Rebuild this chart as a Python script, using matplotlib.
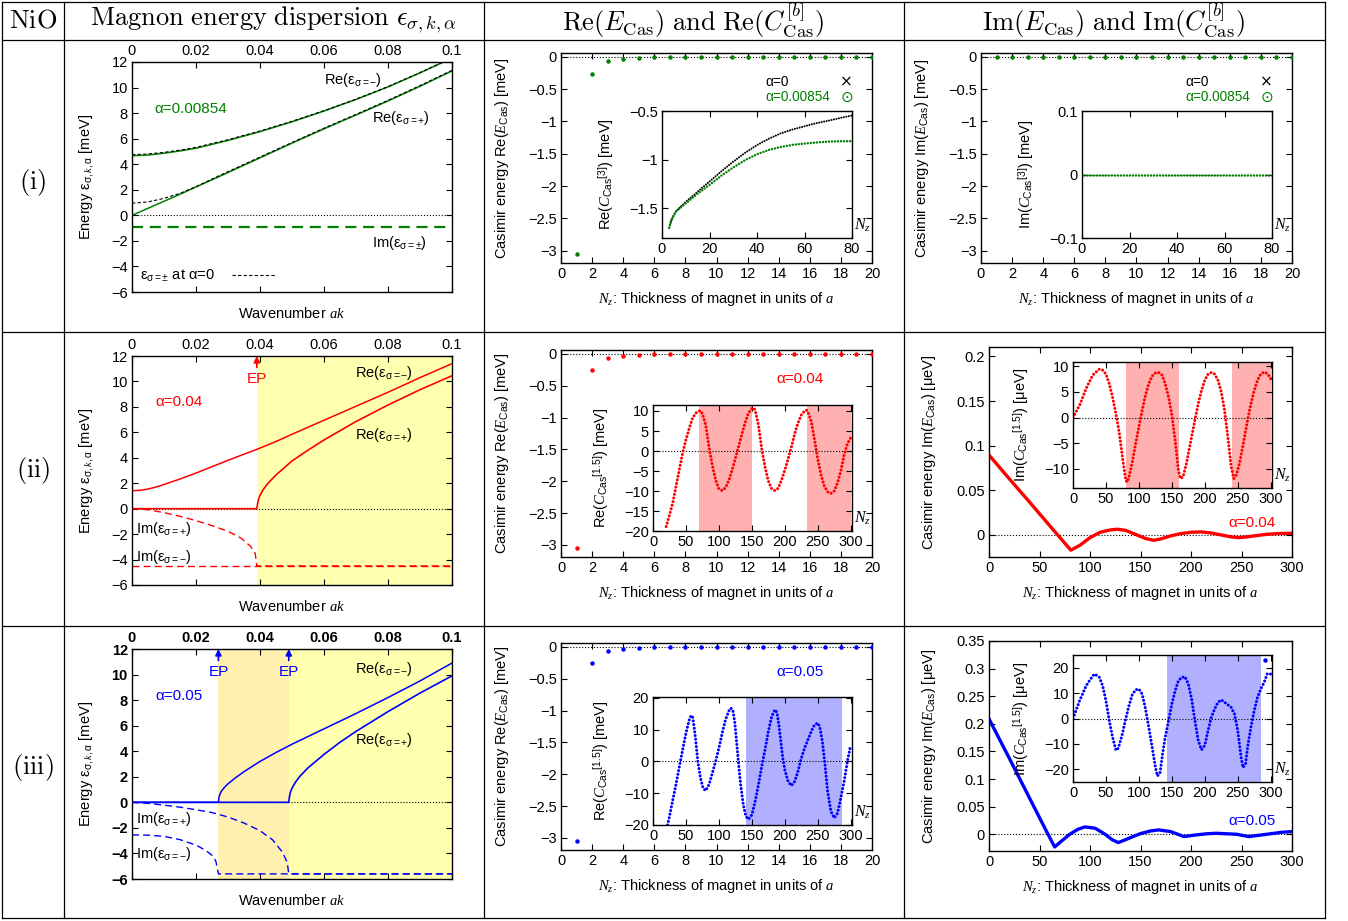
import numpy as np
import matplotlib
matplotlib.use('Agg')
import matplotlib.pyplot as plt
from matplotlib.lines import Line2D
from matplotlib.ticker import FuncFormatter

W, H = 1348, 921

plt.rcParams['font.family'] = ['Liberation Sans', 'DejaVu Sans']
plt.rcParams['font.size'] = 10.5
plt.rcParams['mathtext.fontset'] = 'custom'
plt.rcParams['mathtext.rm'] = 'Liberation Sans'
plt.rcParams['mathtext.it'] = 'Liberation Serif:italic'
plt.rcParams['mathtext.bf'] = 'Liberation Sans:bold'
plt.rcParams['axes.linewidth'] = 1.0

GREEN = '#008000'
RED = '#ff0000'
BLUE = '#0000ff'
YELLOW = '#ffffb0'
ORANGE = '#fff0b0'
PINK = '#ffb0b0'
LAVENDER = '#b0b0ff'

# ---------------- data: magnon dispersion (left column) ----------------
k_ticks = [0, 0.02, 0.04, 0.06, 0.08, 0.1]
e_ticks = [-6, -4, -2, 0, 2, 4, 6, 8, 10, 12]

# (i) alpha = 0.00854 and alpha = 0
k1 = [0, 0.005, 0.01, 0.015, 0.02, 0.03, 0.04, 0.05, 0.06, 0.07, 0.08, 0.09, 0.1]
re_minus_i = [4.66, 4.72, 4.86, 5.04, 5.25, 5.86, 6.55, 7.32, 8.16, 9.07, 10.05, 11.15, 12.3]
re_plus_i = [0, 0.55, 1.1, 1.65, 2.22, 3.35, 4.5, 5.65, 6.77, 7.85, 8.95, 10.1, 11.3]
re_minus_a0 = [4.75, 4.8, 4.93, 5.1, 5.32, 5.92, 6.6, 7.36, 8.19, 9.09, 10.07, 11.17, 12.32]
re_plus_a0 = [0.95, 1.05, 1.33, 1.72, 2.25, 3.42, 4.56, 5.7, 6.82, 7.9, 9.0, 10.15, 11.35]
k1_im = [0, 0.1]
im_i = [-0.95, -0.95]

# (ii) alpha = 0.04
ep_ii = [0.039]
k2_minus = [0, 0.0025, 0.005, 0.0075, 0.01, 0.015, 0.02, 0.025, 0.03, 0.035, 0.039, 0.045,
            0.05, 0.06, 0.07, 0.08, 0.09, 0.1]
re_minus_ii = [1.41, 1.44, 1.54, 1.7, 1.9, 2.33, 2.8, 3.3, 3.8, 4.28, 4.66, 5.28, 5.85,
               6.95, 8.05, 9.15, 10.3, 11.4]
k2_plus = [0, 0.039, 0.0392, 0.0395, 0.04, 0.041, 0.0425, 0.045, 0.05, 0.055, 0.06, 0.07,
           0.08, 0.09, 0.1]
re_plus_ii = [0, 0, 0.35, 0.7, 1.05, 1.5, 2.0, 2.65, 3.75, 4.6, 5.4, 6.85, 8.15, 9.35, 10.45]
k2_im_plus = [0, 0.005, 0.01, 0.015, 0.02, 0.025, 0.03, 0.034, 0.037, 0.0385, 0.039, 0.1]
im_plus_ii = [0, -0.08, -0.31, -0.6, -0.94, -1.33, -1.78, -2.3, -2.95, -3.5, -4.5, -4.5]
k2_im_minus = [0, 0.1]
im_minus_ii = [-4.5, -4.5]

# (iii) alpha = 0.05
ep_iii = [0.027, 0.049]
k3_minus = [0, 0.027, 0.0272, 0.0275, 0.028, 0.029, 0.03, 0.0325, 0.035, 0.04, 0.045, 0.05,
            0.06, 0.07, 0.08, 0.09, 0.1]
re_minus_iii = [0, 0, 0.4, 0.65, 0.9, 1.2, 1.45, 1.95, 2.4, 3.2, 3.9, 4.55, 5.75, 6.95,
                8.2, 9.5, 10.9]
k3_plus = [0, 0.049, 0.0492, 0.0495, 0.05, 0.051, 0.0525, 0.055, 0.06, 0.065, 0.07, 0.08,
           0.09, 0.1]
re_plus_iii = [0, 0, 0.45, 0.8, 1.1, 1.55, 2.05, 2.7, 3.75, 4.7, 5.55, 7.1, 8.55, 9.9]
k3_im_plus = [0, 0.005, 0.01, 0.015, 0.02, 0.025, 0.03, 0.035, 0.04, 0.044, 0.047, 0.0485,
              0.049, 0.1]
im_plus_iii = [0, -0.08, -0.22, -0.38, -0.58, -0.8, -1.15, -1.62, -2.22, -2.95, -3.9, -4.7,
               -5.6, -5.6]
k3_im_minus = [0, 0.005, 0.01, 0.015, 0.02, 0.023, 0.025, 0.0262, 0.027, 0.1]
im_minus_iii = [-2.55, -2.57, -2.66, -2.92, -3.35, -3.75, -4.15, -4.6, -5.6, -5.6]

# ---------------- data: Casimir energy (main panels) ----------------
nz_main = [1, 2, 3, 4, 5, 6, 7, 8, 9, 10, 11, 12, 13, 14, 15, 16, 17, 18, 19, 20]
re_cas = [-3.05, -0.26, -0.07, -0.03, -0.015, -0.009, -0.006, -0.004, -0.003, -0.002,
          -0.002, -0.001, -0.001, -0.001, -0.001, 0, 0, 0, 0, 0]
im_cas_i = [0, 0, 0, 0, 0, 0, 0, 0, 0, 0, 0, 0, 0, 0, 0, 0, 0, 0, 0, 0]

# (i) insets: C_Cas^[3]
nz_c3 = [3, 4, 5, 6, 8, 10, 15, 20, 25, 30, 35, 40, 45, 50, 55, 60, 65, 70, 75, 80]
re_c3_a0 = [-1.70, -1.62, -1.57, -1.53, -1.48, -1.435, -1.33, -1.225, -1.12, -1.02, -0.93,
            -0.85, -0.785, -0.73, -0.69, -0.657, -0.625, -0.6, -0.572, -0.546]
re_c3_a1 = [-1.70, -1.62, -1.57, -1.53, -1.49, -1.45, -1.35, -1.26, -1.165, -1.08, -1.005,
            -0.945, -0.9, -0.87, -0.848, -0.835, -0.824, -0.815, -0.811, -0.81]
nz_c3_im = [1, 80]
im_c3_a1 = [0, 0]

# (ii) alpha = 0.04
nz_re_ii = [20, 25, 30, 35, 40, 45, 50, 55, 60, 65, 70, 72, 75, 80, 85, 90, 95, 100, 105,
            110, 115, 120, 125, 130, 135, 140, 145, 150, 153, 155, 160, 165, 170, 175, 180,
            185, 190, 195, 200, 205, 210, 215, 220, 225, 230, 233, 235, 240, 245, 250, 255,
            260, 265, 270, 275, 280, 285, 290, 295, 300]
re_c15_ii = [-18.9, -16.0, -12.9, -8.8, -4.6, -0.5, 2.8, 5.7, 8.2, 9.5, 10.0, 10.1, 9.3,
             6.5, 1.0, -3.6, -7.2, -9.5, -9.9, -9.2, -7.4, -4.8, -1.9, 1.2, 4.3, 7.2, 9.5,
             10.6, 10.8, 10.2, 6.5, 0.5, -4.0, -7.5, -9.4, -9.9, -9.3, -7.3, -4.8, -2.0,
             1.0, 4.3, 7.0, 9.0, 10.0, 10.2, 9.8, 7.5, 3.0, -2.0, -6.0, -8.8, -10.2, -10.6,
             -10.0, -8.0, -5.0, -1.0, 1.8, 3.3]
shade_re_ii = [(70, 151), (233, 300)]

nz_im_main_ii = [0, 20, 40, 60, 81, 90, 100, 110, 120, 127, 135, 145, 155, 163, 170, 180,
                 190, 200, 210, 220, 230, 240, 247, 255, 265, 275, 285, 300]
im_cas_ii = [0.0895, 0.063, 0.037, 0.0105, -0.017, -0.0116, -0.003, 0.003, 0.0056, 0.0064,
             0.0052, 0.0007, -0.004, -0.006, -0.0045, -0.001, 0.0015, 0.003, 0.0034, 0.0022,
             0.0, -0.0022, -0.003, -0.0022, -0.0007, 0.0007, 0.0015, 0.0019]
nz_im_ii = [0, 10, 20, 30, 40, 45, 50, 55, 60, 65, 70, 75, 80, 82, 85, 90, 95, 100, 105, 110,
            115, 120, 125, 130, 135, 140, 145, 150, 155, 160, 163, 167, 172, 178, 185, 190,
            195, 200, 205, 210, 215, 220, 225, 230, 235, 240, 244, 248, 253, 258, 265, 270,
            275, 280, 285, 290, 295, 300]
im_c15_ii = [0, 2.4, 5.7, 8.3, 9.45, 9.25, 8.5, 6.6, 4.0, 0.8, -2.8, -7.7, -12.2, -12.6,
             -11.6, -8.7, -5.1, -1.8, 1.4, 4.4, 6.6, 8.1, 8.7, 8.8, 8.3, 6.6, 4.0, 0.5, -4.4,
             -10.3, -11.9, -11.6, -9.0, -5.1, -0.5, 2.7, 5.3, 7.3, 8.5, 8.8, 8.5, 7.3, 5.0,
             1.4, -3.8, -9.6, -11.9, -11.2, -8.7, -5.4, -0.5, 2.7, 5.3, 7.3, 8.5, 8.9, 8.6,
             7.6]
shade_im_ii = [(80, 161), (241, 300)]

# (iii) alpha = 0.05
nz_re_iii = [22, 25, 30, 35, 40, 45, 50, 55, 58, 60, 62, 65, 68, 72, 76, 80, 85, 90, 95, 100,
             105, 110, 115, 118, 121, 124, 127, 130, 133, 137, 141, 145, 150, 155, 160, 165,
             170, 175, 180, 185, 188, 191, 194, 197, 200, 205, 210, 215, 220, 225, 230, 235,
             240, 245, 250, 253, 257, 261, 265, 270, 275, 280, 285, 290, 295, 299]
re_c15_iii = [-20, -17.3, -12.1, -7.1, -1.6, 3.7, 8.9, 13.1, 14.5, 14.1, 11.5, 6.3, 0, -5.2,
              -8.4, -9.2, -7.3, -3.7, 0, 4.2, 8.9, 13.1, 15.9, 16.8, 16.3, 12.6, 5.8, -1.0,
              -7.3, -13.6, -17.3, -18.2, -16.8, -12.6, -7.3, -1.6, 3.7, 9.4, 14.1, 16.3,
              15.5, 11.5, 6.3, 1.0, -2.6, -6.3, -7.6, -6.3, -3.1, 1.0, 4.2, 6.8, 9.4, 11.5,
              12.1, 11.0, 6.3, -1.0, -9.4, -15.7, -17.8, -16.3, -11.5, -6.3, 0, 4.2]
shade_re_iii = [(141, 287)]

nz_im_main_iii = [0, 20, 40, 57, 65, 72, 80, 88, 95, 105, 115, 122, 128, 135, 140, 150, 160,
                  168, 180, 193, 205, 215, 225, 245, 257, 270, 290, 300]
im_cas_iii = [0.209, 0.138, 0.066, 0.005, -0.023, -0.012, 0.0, 0.009, 0.0133, 0.011, 0.0,
              -0.01, -0.015, -0.01, -0.006, 0.0012, 0.006, 0.0079, 0.0048, -0.0042, -0.0012,
              0.0008, 0.0018, 0.0, -0.0042, -0.0012, 0.0036, 0.0048]
nz_im_iii = [0, 10, 20, 30, 33, 40, 45, 50, 55, 60, 65, 67, 70, 75, 80, 85, 90, 95, 100, 105,
             110, 115, 120, 125, 128, 132, 136, 140, 145, 150, 155, 160, 165, 170, 175, 180,
             185, 190, 195, 200, 205, 210, 215, 220, 225, 230, 240, 245, 250, 255, 258, 262,
             265, 270, 275, 280, 285, 290, 295, 300]
im_c15_iii = [0, 7.0, 12.9, 16.8, 17.5, 16.2, 12.9, 7.0, -0.8, -7.3, -12.3, -12.5, -10.6,
              -6.0, -0.1, 5.1, 9.4, 11.3, 11.6, 9.6, 3.8, -3.4, -11.2, -19.0, -22.6, -21.6,
              -13.8, -7.3, -0.8, 5.7, 10.9, 14.9, 16.2, 16.4, 13.6, 7.7, -0.8, -8.6, -12.3,
              -10.6, -4.7, 0.5, 3.8, 6.4, 7.3, 6.4, 4.4, 1.8, -4.7, -15.1, -19.3, -17.7,
              -11.2, -3.4, 3.1, 8.3, 11.6, 14.2, 17.7, 17.5]
outlier_nz_iii = [292]
outlier_im_iii = [23]
shade_im_iii = [(142, 286)]

# ---------------- helpers ----------------
fig = plt.figure(figsize=(W / 100, H / 100), dpi=100)


def rect(x0, y0, x1, y1):
    return [x0 / W, 1 - y1 / H, (x1 - x0) / W, (y1 - y0) / H]


def fmt(v, pos):
    if abs(v) < 1e-9:
        return '0'
    return ('%g' % v).replace('-', '\u2212')


def style(ax, xt, yt, fs=10.5):
    ax.set_xticks(xt)
    ax.set_yticks(yt)
    ax.tick_params(direction='in', top=True, right=True, length=4, width=0.8,
                   labelsize=fs, pad=3)
    ax.xaxis.set_major_formatter(FuncFormatter(fmt))
    ax.yaxis.set_major_formatter(FuncFormatter(fmt))


DOTS = dict(ls=(0, (0.01, 1.2)), dash_capstyle='round')
NZ_LABEL = r'$N_z$: Thickness of magnet in units of $a$'


def dispersion_axes(r, bold=False):
    ax = fig.add_axes(rect(*r))
    ax.set_xlim(0, 0.1)
    ax.set_ylim(-6, 12)
    style(ax, k_ticks, e_ticks)
    ax.tick_params(axis='x', labeltop=True, labelbottom=False)
    ax.set_xlabel('Wavenumber $ak$', labelpad=10)
    ax.set_ylabel(r'Energy $\mathrm{ε}_{\mathrm{σ,}k\mathrm{,α}}$ [meV]', labelpad=11)
    ax.axhline(0, color='k', ls=':', lw=0.8, zorder=1)
    if bold:
        plt.setp(ax.get_xticklabels() + ax.get_yticklabels(), fontweight='bold')
    return ax


def ep_marks(ax, eps, color):
    for e in eps:
        ax.annotate('', xy=(e, 12), xytext=(e, 11.1),
                    arrowprops=dict(arrowstyle='-|>', color=color, lw=1.2,
                                    mutation_scale=9, shrinkA=0, shrinkB=0))
        ax.text(e, 10.2, 'EP', color=color, ha='center', va='center', fontsize=11)


def cas_main(r, color, ylab):
    ax = fig.add_axes(rect(*r))
    ax.set_xlim(0, 20)
    ax.set_ylim(-3.19, 0.06)
    style(ax, list(range(0, 21, 2)), [-3, -2.5, -2, -1.5, -1, -0.5, 0])
    ax.axhline(0, color='k', ls=':', lw=0.8, zorder=1)
    ax.plot(nz_main, re_cas if 'Re' in ylab else im_cas_i, 'o', color=color, ms=2.2,
            zorder=3)
    ax.set_ylabel(ylab, labelpad=12)
    ax.set_xlabel(NZ_LABEL, labelpad=6)
    return ax


def inset(r, xlim, xt, ylim, yt, ylab):
    ax = fig.add_axes(rect(*r))
    ax.set_xlim(*xlim)
    ax.set_ylim(*ylim)
    style(ax, xt, yt)
    ax.axhline(0, color='k', ls=':', lw=0.8, zorder=1)
    ax.set_ylabel(ylab, labelpad=8.5)
    ax.text(1.01, 0.1, r'$N_z$', transform=ax.transAxes, ha='left', va='center',
            fontsize=11.5)
    return ax


def key_pair(ax):
    # gnuplot-style key: labels left aligned, symbols in a column on the right
    for lab, sym, col, yy in [('α=0', '×', 'k', 0.862), ('α=0.00854', '⊙', GREEN, 0.79)]:
        ax.text(0.658, yy, lab, color=col, transform=ax.transAxes, ha='left',
                va='center', fontsize=9.8)
        ax.text(0.918, yy, sym, color=col, transform=ax.transAxes, ha='center',
                va='center', fontsize=11, family='DejaVu Sans')


# ---------------- table grid and headers ----------------
for y in [2, 40, 332, 626, 918]:
    fig.add_artist(Line2D([2 / W, 1325 / W], [1 - y / H, 1 - y / H], color='k', lw=0.9))
for x in [2, 64, 484, 904, 1325]:
    fig.add_artist(Line2D([x / W, x / W], [1 - 2 / H, 1 - 918 / H], color='k', lw=0.9))

hdr = dict(ha='center', va='center', fontsize=19, math_fontfamily='cm')
fig.text(33 / W, 1 - 21 / H, r'$\mathrm{NiO}$', **hdr)
fig.text(274 / W, 1 - 20 / H, r'$\mathrm{Magnon\ energy\ dispersion}\ \epsilon_{\sigma,k,\alpha}$', **hdr)
fig.text(693 / W, 1 - 20 / H, r'$\mathrm{Re}(E_{\mathrm{Cas}})\ \mathrm{and}\ \mathrm{Re}(C_{\mathrm{Cas}}^{[b]})$', **hdr)
fig.text(1113 / W, 1 - 20 / H, r'$\mathrm{Im}(E_{\mathrm{Cas}})\ \mathrm{and}\ \mathrm{Im}(C_{\mathrm{Cas}}^{[b]})$', **hdr)
for lab, yy in [('(i)', 183), ('(ii)', 470), ('(iii)', 767)]:
    fig.text(33 / W, 1 - yy / H, r'$\mathrm{' + lab + '}$', **hdr)

# ---------------- row (i) ----------------
ax = dispersion_axes((132, 62, 452, 292))
ax.plot(k1, re_minus_i, color=GREEN, lw=1.1)
ax.plot(k1, re_plus_i, color=GREEN, lw=1.1)
ax.plot(k1, re_minus_a0, color='k', ls=(0, (3, 2)), lw=0.8)
ax.plot(k1, re_plus_a0, color='k', ls=(0, (3, 2)), lw=0.8)
ax.plot(k1_im, im_i, color=GREEN, ls=(0, (5, 3)), lw=1.6)
ax.text(0.06, 10.6, r'Re($\mathrm{ε}_{\mathrm{σ=−}}$)', va='center')
ax.text(0.075, 7.6, r'Re($\mathrm{ε}_{\mathrm{σ=+}}$)', va='center')
ax.text(0.075, -2.2, r'Im($\mathrm{ε}_{\mathrm{σ=±}}$)', va='center')
ax.text(0.007, 8.3, 'α=0.00854', color=GREEN, va='center', fontsize=11)
ax.legend([Line2D([], [], color='k', ls=(0, (3, 2)), lw=0.8)],
          [r'$\mathrm{ε}_{\mathrm{σ=±}}$ at α=0'], loc='lower left', frameon=False,
          markerfirst=False, handlelength=3.0, handletextpad=1.2, borderaxespad=0.15,
          fontsize=10.5)

ax = cas_main((561, 53, 872, 263), GREEN, r'Casimir energy Re($E_\mathrm{Cas}$) [meV]')
key_pair(ax)
ins = inset((662, 111, 852, 238), (0, 80), [0, 20, 40, 60, 80], (-1.806, -0.5),
            [-1.5, -1, -0.5], r'Re($C_\mathrm{Cas}{}^{[3]}$) [meV]')
ins.plot(nz_c3, re_c3_a0, color='k', lw=1.5, **DOTS)
ins.plot(nz_c3, re_c3_a1, color=GREEN, lw=1.8, **DOTS)

ax = cas_main((981, 53, 1292, 263), GREEN, r'Casimir energy Im($E_\mathrm{Cas}$) [meV]')
key_pair(ax)
ins = inset((1082, 111, 1272, 238), (0, 80), [0, 20, 40, 60, 80], (-0.1, 0.1),
            [-0.1, 0, 0.1], r'Im($C_\mathrm{Cas}{}^{[3]}$) [meV]')
ins.plot(nz_c3_im, im_c3_a1, color=GREEN, lw=1.8, **DOTS)

# ---------------- row (ii) ----------------
ax = dispersion_axes((132, 356, 452, 585))
for e in ep_ii:
    ax.axvspan(e, 0.1, color=YELLOW, lw=0, zorder=0)
ax.plot(k2_minus, re_minus_ii, color=RED, lw=1.1)
ax.plot(k2_plus, re_plus_ii, color=RED, lw=1.2)
ax.plot(k2_im_plus, im_plus_ii, color=RED, ls=(0, (5, 3)), lw=1.0)
ax.plot(k2_im_minus, im_minus_ii, color=RED, ls=(0, (5, 3)), lw=1.0)
ep_marks(ax, ep_ii, RED)
ax.text(0.0697, 10.66, r'Re($\mathrm{ε}_{\mathrm{σ=−}}$)', va='center')
ax.text(0.0697, 5.79, r'Re($\mathrm{ε}_{\mathrm{σ=+}}$)', va='center')
ax.text(0.0012, -1.6, r'Im($\mathrm{ε}_{\mathrm{σ=+}}$)', va='center')
ax.text(0.0012, -3.8, r'Im($\mathrm{ε}_{\mathrm{σ=−}}$)', va='center')
ax.text(0.0072, 8.4, 'α=0.04', color=RED, va='center', fontsize=11)

ax = cas_main((561, 350, 872, 557), RED, r'Casimir energy Re($E_\mathrm{Cas}$) [meV]')
ax.text(0.768, 0.86, 'α=0.04', color=RED, transform=ax.transAxes, ha='center',
        va='center', fontsize=11)
ins = inset((653, 405, 852, 531), (0, 302), [0, 50, 100, 150, 200, 250, 300], (-20, 11.5),
            [-20, -15, -10, -5, 0, 5, 10], r'Re($C_\mathrm{Cas}{}^{[1.5]}$) [meV]')
for a, b in shade_re_ii:
    ins.axvspan(a, b, color=PINK, lw=0, zorder=0)
ins.plot(nz_re_ii, re_c15_ii, color=RED, lw=2.2, **DOTS)

ax = fig.add_axes(rect(989, 347, 1292, 557))
ax.set_xlim(0, 300)
ax.set_ylim(-0.0247, 0.2105)
style(ax, [0, 50, 100, 150, 200, 250, 300], [0, 0.05, 0.1, 0.15, 0.2])
ax.axhline(0, color='k', ls=':', lw=0.8, zorder=1)
ax.plot(nz_im_main_ii, im_cas_ii, color=RED, lw=2.4)
ax.set_ylabel(r'Casimir energy Im($E_\mathrm{Cas}$) [μeV]', labelpad=13)
ax.set_xlabel(NZ_LABEL, labelpad=6)
ax.text(0.868, 0.162, 'α=0.04', color=RED, transform=ax.transAxes, ha='center',
        va='center', fontsize=11)
ins = inset((1073, 362, 1272, 488), (0, 302), [0, 50, 100, 150, 200, 250, 300],
            (-13.75, 10.85), [-10, -5, 0, 5, 10], r'Im($C_\mathrm{Cas}{}^{[1.5]}$) [μeV]')
for a, b in shade_im_ii:
    ins.axvspan(a, b, color=PINK, lw=0, zorder=0)
ins.plot(nz_im_ii, im_c15_ii, color=RED, lw=2.2, **DOTS)

# ---------------- row (iii) ----------------
ax = dispersion_axes((132, 649, 452, 879), bold=True)
ax.axvspan(ep_iii[0], ep_iii[1], color=ORANGE, lw=0, zorder=0)
ax.axvspan(ep_iii[1], 0.1, color=YELLOW, lw=0, zorder=0)
ax.plot(k3_minus, re_minus_iii, color=BLUE, lw=1.1)
ax.plot(k3_plus, re_plus_iii, color=BLUE, lw=1.2)
ax.plot(k3_im_plus, im_plus_iii, color=BLUE, ls=(0, (5, 3)), lw=1.0)
ax.plot(k3_im_minus, im_minus_iii, color=BLUE, ls=(0, (5, 3)), lw=1.0)
ep_marks(ax, ep_iii, BLUE)
ax.text(0.0697, 10.43, r'Re($\mathrm{ε}_{\mathrm{σ=−}}$)', va='center')
ax.text(0.0697, 4.88, r'Re($\mathrm{ε}_{\mathrm{σ=+}}$)', va='center')
ax.text(0.0012, -1.3, r'Im($\mathrm{ε}_{\mathrm{σ=+}}$)', va='center')
ax.text(0.0012, -4.04, r'Im($\mathrm{ε}_{\mathrm{σ=−}}$)', va='center')
ax.text(0.0072, 8.3, 'α=0.05', color=BLUE, va='center', fontsize=11)

ax = cas_main((561, 643, 872, 850), BLUE, r'Casimir energy Re($E_\mathrm{Cas}$) [meV]')
ax.text(0.768, 0.86, 'α=0.05', color=BLUE, transform=ax.transAxes, ha='center',
        va='center', fontsize=11)
ins = inset((653, 697, 852, 825), (0, 302), [0, 50, 100, 150, 200, 250, 300], (-20, 20.3),
            [-20, -10, 0, 10, 20], r'Re($C_\mathrm{Cas}{}^{[1.5]}$) [meV]')
for a, b in shade_re_iii:
    ins.axvspan(a, b, color=LAVENDER, lw=0, zorder=0)
ins.plot(nz_re_iii, re_c15_iii, color=BLUE, lw=2.2, **DOTS)

ax = fig.add_axes(rect(989, 641, 1292, 851))
ax.set_xlim(0, 300)
ax.set_ylim(-0.0303, 0.35)
style(ax, [0, 50, 100, 150, 200, 250, 300], [0, 0.05, 0.1, 0.15, 0.2, 0.25, 0.3, 0.35])
ax.axhline(0, color='k', ls=':', lw=0.8, zorder=1)
ax.plot(nz_im_main_iii, im_cas_iii, color=BLUE, lw=2.4)
ax.set_ylabel(r'Casimir energy Im($E_\mathrm{Cas}$) [μeV]', labelpad=13)
ax.set_xlabel(NZ_LABEL, labelpad=6)
ax.text(0.868, 0.143, 'α=0.05', color=BLUE, transform=ax.transAxes, ha='center',
        va='center', fontsize=11)
ins = inset((1073, 655, 1272, 782), (0, 302), [0, 50, 100, 150, 200, 250, 300], (-25, 25),
            [-20, -10, 0, 10, 20], r'Im($C_\mathrm{Cas}{}^{[1.5]}$) [μeV]')
for a, b in shade_im_iii:
    ins.axvspan(a, b, color=LAVENDER, lw=0, zorder=0)
ins.plot(nz_im_iii, im_c15_iii, color=BLUE, lw=2.2, **DOTS)
ins.plot(outlier_nz_iii, outlier_im_iii, 'o', color=BLUE, ms=2.2)

fig.savefig('out.png', dpi=100)
